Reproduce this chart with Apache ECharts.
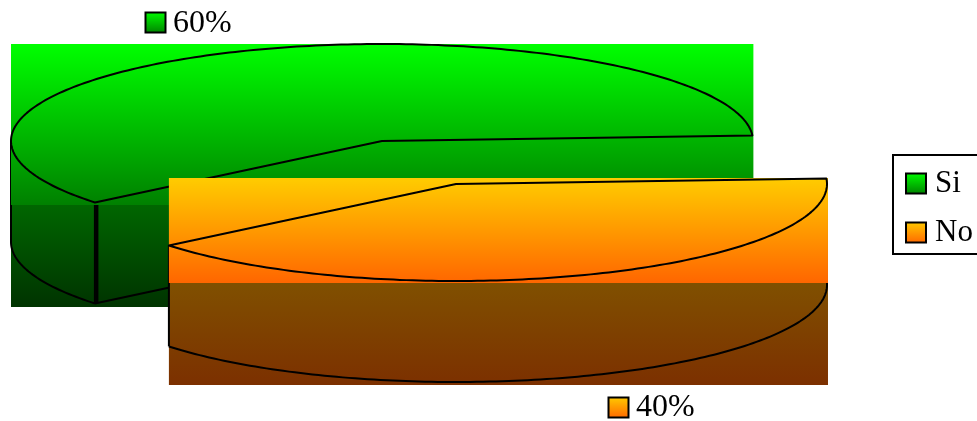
<!DOCTYPE html>
<html>
<head>
<meta charset="utf-8">
<style>html,body{margin:0;padding:0;background:#fff}#c{width:977px;height:421px}</style>
<script src="https://cdn.jsdelivr.net/npm/echarts@6/dist/echarts.min.js"></script>
</head>
<body>
<div id="c"></div>
<script>
var categories = ['Si', 'No'];
var seriesValues = [60, 40];
var percentLabels = ['60%', '40%'];
var topColors = [['#00ff00', '#008000'], ['#ffcc00', '#ff6600']];
var sideColors = [['#006600', '#003300'], ['#805000', '#7c3000']];

var FONT = '"Liberation Serif","Times New Roman",serif';
var RX = 371, RY = 97, DEPTH = 101, START_DEG = 140.7;
var centers = [[382, 141], [456, 184]];
var labelPos = [[145, 12, 173, 24], [608, 397, 636, 408]];
var total = seriesValues.reduce(function (a, b) { return a + b; }, 0);

function grad(c) {
  return new echarts.graphic.LinearGradient(0, 0, 0, 1, [
    { offset: 0, color: c[0] }, { offset: 1, color: c[1] }
  ]);
}
function arc(cx, cy, a0, a1) {
  var pts = [], n = Math.max(1, Math.ceil(Math.abs(a1 - a0)));
  for (var i = 0; i <= n; i++) {
    var a = (a0 + (a1 - a0) * i / n) * Math.PI / 180;
    pts.push([cx + RX * Math.cos(a), cy + RY * Math.sin(a)]);
  }
  return pts;
}
function makeRender(idx) {
  return function (params, api) {
    var value = api.value(0);
    var before = 0;
    for (var k = 0; k < idx; k++) before += seriesValues[k];
    var a0 = START_DEG + before / total * 360;
    var a1 = a0 + value / total * 360;
    var cx = centers[idx][0], cy = centers[idx][1];
    var top = arc(cx, cy, a0, a1);
    var xs = top.map(function (p) { return p[0]; }).concat(cx);
    var ys = top.map(function (p) { return p[1]; }).concat(cy);
    var L = Math.min.apply(null, xs), R = Math.max.apply(null, xs) + 1;
    var T = Math.floor(Math.min.apply(null, ys)), B = Math.floor(Math.max.apply(null, ys) + 3);
    var line = { stroke: '#000', lineWidth: 2, fill: null, lineJoin: 'round' };
    var ch = [];
    // side band
    ch.push({ type: 'rect', shape: { x: L, y: B, width: R - L, height: DEPTH + 1 },
      style: { fill: grad(sideColors[idx]) } });
    // visible rim of the side: the part of the arc on the front half
    var vis = [];
    [[0, 180], [360, 540]].forEach(function (w) {
      var s = Math.max(a0, w[0]), e = Math.min(a1, w[1]);
      if (e > s) vis.push([s, e]);
    });
    vis.forEach(function (v) {
      var lowPts = arc(cx, cy + DEPTH, v[0], v[1]);
      ch.push({ type: 'polyline', shape: { points: lowPts }, style: line });
      [lowPts[0], lowPts[lowPts.length - 1]].forEach(function (p) {
        ch.push({ type: 'line', shape: { x1: p[0], y1: p[1] - DEPTH, x2: p[0], y2: p[1] }, style: line });
      });
    });
    // cut face, only when the slice's first edge lies on the front half
    if (a0 % 360 < 180) {
      var tip = arc(cx, cy, a0, a0)[0];
      ch.push({ type: 'line', shape: { x1: tip[0] + 2, y1: tip[1], x2: tip[0] + 2, y2: tip[1] + DEPTH },
        style: { stroke: '#000', lineWidth: 3 } });
      ch.push({ type: 'line', shape: { x1: tip[0], y1: tip[1] + DEPTH, x2: cx, y2: cy + DEPTH }, style: line });
    }
    // top band and outline
    ch.push({ type: 'rect', shape: { x: L, y: T, width: R - L, height: B - T },
      style: { fill: grad(topColors[idx]) } });
    ch.push({ type: 'polygon', shape: { points: top.concat([[cx, cy]]) }, style: line });
    // data label with its key
    var lp = labelPos[idx];
    ch.push({ type: 'rect', shape: { x: lp[0] + 0.5, y: lp[1] + 0.5, width: 20, height: 20 },
      style: { fill: grad(topColors[idx]), stroke: '#000', lineWidth: 2 } });
    ch.push({ type: 'text', x: lp[2], y: lp[3], style: {
      text: percentLabels[idx], fill: '#000', font: '32px ' + FONT,
      textAlign: 'left', textVerticalAlign: 'middle' } });
    return { type: 'group', children: ch };
  };
}

var chart = echarts.init(document.getElementById('c'), null, { renderer: 'canvas' });
chart.setOption({
  animation: false,
  legend: {
    orient: 'vertical', left: 893, top: 155,
    data: categories, icon: 'rect',
    itemWidth: 20, itemHeight: 20, itemGap: 18,
    padding: [13, 30, 6, 12],
    borderColor: '#000', borderWidth: 2, backgroundColor: '#fff',
    selectedMode: false,
    itemStyle: { borderColor: '#000', borderWidth: 2 },
    textStyle: { fontFamily: FONT, fontSize: 31, color: '#000', padding: [7, 0, 0, 4] }
  },
  series: categories.map(function (name, i) {
    return {
      type: 'custom', name: name, coordinateSystem: 'none', silent: true,
      z: i + 1,
      itemStyle: { color: new echarts.graphic.LinearGradient(0, 0, 0, 1, [
        { offset: 0, color: topColors[i][0] }, { offset: 1, color: topColors[i][1] }
      ]) },
      data: [[seriesValues[i]]],
      renderItem: makeRender(i)
    };
  })
});
</script>
</body>
</html>
